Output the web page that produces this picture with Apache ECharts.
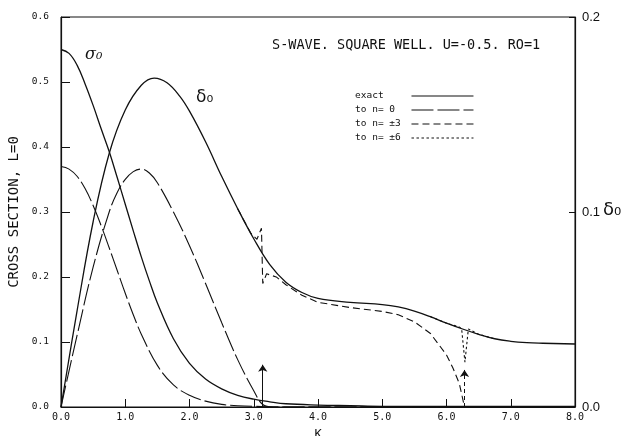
<!DOCTYPE html>
<html>
<head>
<meta charset="utf-8">
<script src="https://cdn.jsdelivr.net/npm/echarts@6/dist/echarts.min.js"></script>
<style>
  html, body { margin: 0; padding: 0; background: #fff; }
  #chart { width: 628px; height: 436px; }
</style>
</head>
<body>
<div id="chart"></div>
<script>
// cross section read on the left axis, phase shift on the right axis
const kSigmaExact = [0, 0.125, 0.25, 0.375, 0.5, 0.625, 0.75, 0.875, 1.0, 1.125, 1.25, 1.375, 1.5, 1.75, 2.0, 2.25, 2.5, 2.75, 3.0, 3.25, 3.5, 4.0, 4.5, 5, 6, 7, 8]
const sigmaExact = [0.55, 0.544, 0.526, 0.497, 0.464, 0.428, 0.393, 0.353, 0.312, 0.271, 0.231, 0.194, 0.160, 0.105, 0.067, 0.043, 0.028, 0.018, 0.012, 0.008, 0.005, 0.003, 0.002, 0.001, 0.001, 0.001, 0.001]

const kDeltaExact = [0, 0.25, 0.5, 0.75, 1.0, 1.25, 1.45, 1.65, 1.85, 2.0, 2.25, 2.5, 2.75, 3.0, 3.25, 3.5, 3.75, 4.0, 4.5, 5.0, 5.25, 5.5, 5.75, 6.0, 6.25, 6.5, 6.75, 7.0, 7.25, 7.5, 8.0]
const deltaExact = [0, 0.0493, 0.095, 0.130, 0.1523, 0.165, 0.1687, 0.1663, 0.1593, 0.1517, 0.136, 0.1183, 0.1017, 0.0863, 0.073, 0.064, 0.0587, 0.0557, 0.0537, 0.0525, 0.0513, 0.0492, 0.0463, 0.043, 0.040, 0.0373, 0.035, 0.0337, 0.033, 0.0327, 0.0323]

const kSigmaN0 = [0, 0.125, 0.25, 0.375, 0.5, 0.625, 0.75, 0.875, 1.0, 1.125, 1.25, 1.5, 1.75, 2.0, 2.25, 2.5, 2.75, 3.0, 3.5, 4, 5, 6, 7, 8]
const sigmaN0 = [0.37, 0.366, 0.355, 0.336, 0.31, 0.279, 0.245, 0.21, 0.175, 0.142, 0.112, 0.064, 0.034, 0.018, 0.009, 0.004, 0.002, 0.001, 0, 0, 0, 0, 0, 0]

const kDeltaN0 = [0, 0.25, 0.5, 0.75, 0.875, 1.0, 1.125, 1.25, 1.375, 1.5, 1.75, 2.0, 2.25, 2.5, 2.75, 3.0, 3.14, 3.3, 4, 5, 6, 7, 8]
const deltaN0 = [0, 0.0367, 0.0717, 0.100, 0.110, 0.1167, 0.1207, 0.122, 0.120, 0.115, 0.100, 0.0827, 0.0633, 0.0433, 0.0243, 0.0083, 0.0013, 0, 0, 0, 0, 0, 0]

const kN3 = [2.75, 2.95, 3.05, 3.12, 3.14, 3.2, 3.35, 3.5, 3.75, 4.0, 4.5, 5.0, 5.25, 5.5, 5.75, 6.0, 6.1, 6.2, 6.28]
const deltaN3 = [0.1017, 0.0893, 0.086, 0.0917, 0.0633, 0.0683, 0.0667, 0.0627, 0.0573, 0.0537, 0.051, 0.049, 0.0473, 0.0437, 0.0377, 0.0267, 0.02, 0.012, 0]

const kN6 = [5.75, 6.0, 6.2, 6.236, 6.287, 6.34, 6.4, 6.5, 6.75]
const deltaN6 = [0.0463, 0.043, 0.041, 0.040, 0.023, 0.040, 0.039, 0.0373, 0.035]

const arrowK = [3.14, 6.28]
const arrowTop = [0.065, 0.057]

const legendNames = ['exact', 'to n= 0', 'to n= ±3', 'to n= ±6']

const ink = '#111'
const mono = '"DejaVu Sans Mono", monospace'
const pair = (ks, vs) => ks.map((k, i) => [k, vs[i]])

const chart = echarts.init(document.getElementById('chart'))

const curve = (name, ks, vs, axis, dash, width, smooth) => ({
  name,
  type: 'line',
  yAxisIndex: axis,
  data: pair(ks, vs),
  symbol: 'none',
  smooth,
  silent: true,
  lineStyle: { color: ink, width, type: dash },
  itemStyle: { color: ink },
})

const sigmaExactSeries = curve('exact', kSigmaExact, sigmaExact, 0, 'solid', 1.3, 0.4)
sigmaExactSeries.markLine = {
  silent: true,
  symbol: ['none', 'arrow'],
  symbolSize: 7,
  label: { show: false },
  lineStyle: { color: ink, width: 1, type: 'solid' },
  data: arrowK.map((k, i) => [
    { coord: [k, 0] },
    { coord: [k, arrowTop[i]], lineStyle: { type: i === 0 ? 'solid' : [4, 3] } },
  ]),
}

const option = {
  animation: false,
  backgroundColor: '#fff',
  title: [
    {
      text: 'S-WAVE. SQUARE WELL. U=-0.5. RO=1',
      left: 272, top: 38, padding: 0,
      textStyle: { fontFamily: mono, fontSize: 13.5, fontWeight: 'normal', color: ink },
    },
    {
      text: 'σ₀', left: 85, top: 47, padding: 0,
      textStyle: { fontFamily: '"DejaVu Serif"', fontStyle: 'italic', fontSize: 16, fontWeight: 'normal', color: ink },
    },
    {
      text: 'δ₀', left: 196, top: 89, padding: 0,
      textStyle: { fontFamily: '"DejaVu Sans"', fontSize: 17, fontWeight: 'normal', color: ink },
    },
    {
      text: 'δ₀', left: 603, top: 201, padding: 0,
      textStyle: { fontFamily: '"DejaVu Sans"', fontSize: 18, fontWeight: 'normal', color: ink },
    },
  ],
  legend: {
    orient: 'vertical',
    left: 355,
    top: 91,
    align: 'right',
    itemWidth: 62,
    itemHeight: 10,
    itemGap: 4,
    padding: 0,
    selectedMode: false,
    data: legendNames,
    formatter: name => name.padEnd(9),
    itemStyle: { color: 'rgba(0,0,0,0)', borderWidth: 0, opacity: 0 },
    lineStyle: { width: 1.2 },
    textStyle: { fontFamily: mono, fontSize: 9.5, color: ink },
  },
  grid: { left: 61, right: 53, top: 17, bottom: 29, show: true, borderColor: ink, borderWidth: 1, outerBoundsMode: 'none' },
  xAxis: {
    type: 'value',
    min: 0, max: 8, interval: 1,
    name: 'K',
    nameLocation: 'middle',
    nameGap: 22,
    nameTextStyle: { fontFamily: mono, fontSize: 12, color: ink },
    axisLine: { lineStyle: { color: ink, width: 1.2 } },
    axisTick: { inside: true, length: 8, lineStyle: { color: ink } },
    axisLabel: { fontFamily: mono, fontSize: 10, color: ink, margin: 5, formatter: v => v.toFixed(1) },
    splitLine: { show: false },
  },
  yAxis: [
    {
      type: 'value',
      min: 0, max: 0.6, interval: 0.1,
      name: 'CROSS SECTION, L=0',
      nameLocation: 'middle',
      nameGap: 33,
      nameTextStyle: { fontFamily: mono, fontSize: 14, color: ink },
      axisLine: { show: true, lineStyle: { color: ink, width: 1.2 } },
      axisTick: { inside: true, length: 9, lineStyle: { color: ink } },
      axisLabel: { fontFamily: mono, fontSize: 9.5, color: ink, margin: 12, formatter: v => v.toFixed(1) },
      splitLine: { show: false },
    },
    {
      type: 'value',
      position: 'right',
      min: 0, max: 0.2, interval: 0.1,
      axisLine: { show: true, lineStyle: { color: ink, width: 1.2 } },
      axisTick: { inside: true, length: 6, lineStyle: { color: ink } },
      axisLabel: { fontFamily: '"Liberation Sans", Arial, sans-serif', fontSize: 13, color: ink, margin: 7, formatter: v => v.toFixed(1) },
      splitLine: { show: false },
    },
  ],
  series: [
    sigmaExactSeries,
    curve('exact', kDeltaExact, deltaExact, 1, 'solid', 1.3, 0.4),
    curve('to n= 0', kSigmaN0, sigmaN0, 0, [22, 4], 1.1, 0.4),
    curve('to n= 0', kDeltaN0, deltaN0, 1, [22, 4], 1.1, 0.4),
    curve('to n= ±3', kN3, deltaN3, 1, [7, 4], 1.1, false),
    curve('to n= ±6', kN6, deltaN6, 1, [2.5, 2.5], 1.1, false),
  ],
}

chart.setOption(option)
</script>
</body>
</html>
